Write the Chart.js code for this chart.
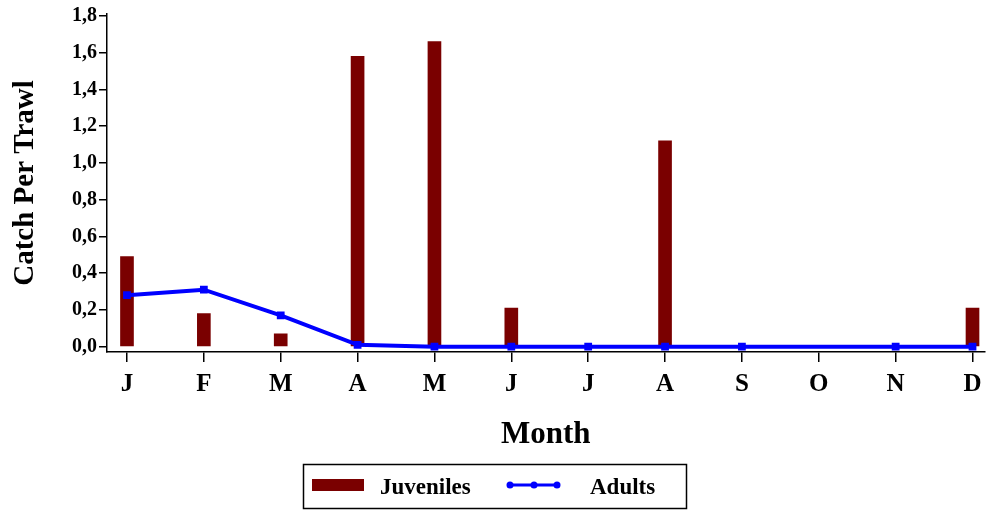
<!DOCTYPE html>
<html>
<head>
<meta charset="utf-8">
<script src="https://cdn.jsdelivr.net/npm/chart.js@4/dist/chart.umd.min.js"></script>
<style>
  html, body { margin: 0; padding: 0; background: #ffffff; }
  #wrap { width: 990px; height: 510px; position: relative; }
</style>
</head>
<body>
<div id="wrap"><canvas id="c" width="990" height="510"></canvas></div>
<script>
const months = ['J', 'F', 'M', 'A', 'M', 'J', 'J', 'A', 'S', 'O', 'N', 'D'];
const juveniles = [0.49, 0.18, 0.07, 1.58, 1.66, 0.21, 0, 1.12, 0, 0, 0, 0.21];
const adults = [0.28, 0.31, 0.17, 0.01, 0, 0, 0, 0, 0, null, 0, 0];
const yTicks = [0, 0.2, 0.4, 0.6, 0.8, 1.0, 1.2, 1.4, 1.6, 1.8];
const seriesNames = ['Juveniles', 'Adults'];

const FONT = '"Liberation Serif", "DejaVu Serif", serif';
const MAROON = '#7a0000';
const BLUE = '#0000ff';

const legendPlugin = {
  id: 'boxLegend',
  afterDraw(chart) {
    const ctx = chart.ctx;
    const ds = chart.data.datasets;
    ctx.save();
    ctx.strokeStyle = '#000';
    ctx.lineWidth = 1.5;
    ctx.strokeRect(303.5, 464.5, 383, 44);
    ctx.fillStyle = ds[0].backgroundColor;
    ctx.fillRect(312, 479, 52, 12);
    ctx.strokeStyle = ds[1].borderColor;
    ctx.lineWidth = 3;
    ctx.beginPath();
    ctx.moveTo(508, 485);
    ctx.lineTo(559, 485);
    ctx.stroke();
    ctx.fillStyle = ds[1].borderColor;
    [510, 534, 557].forEach(x => {
      ctx.beginPath();
      ctx.arc(x, 485, 3.5, 0, Math.PI * 2);
      ctx.fill();
    });
    ctx.fillStyle = '#000';
    ctx.font = 'bold 23px ' + FONT;
    ctx.textBaseline = 'middle';
    ctx.textAlign = 'left';
    ctx.fillText(ds[0].label, 380, 488);
    ctx.fillText(ds[1].label, 590, 488);
    ctx.restore();
  }
};

const barData = juveniles.map((v, i) => ({ x: i, y: v }));
const lineData = adults.map((v, i) => ({ x: i, y: v })).filter(p => p.y !== null);

new Chart(document.getElementById('c'), {
  type: 'bar',
  data: {
    datasets: [
      {
        type: 'bar',
        label: seriesNames[0],
        data: barData,
        backgroundColor: MAROON,
        borderWidth: 0,
        barThickness: 13,
        order: 1
      },
      {
        type: 'line',
        label: seriesNames[1],
        data: lineData,
        borderColor: BLUE,
        backgroundColor: BLUE,
        borderWidth: 4,
        pointStyle: 'rect',
        pointRadius: 5.5,
        pointBorderWidth: 0,
        tension: 0,
        spanGaps: true,
        order: 0
      }
    ]
  },
  options: {
    responsive: false,
    animation: false,
    devicePixelRatio: 1,
    layout: { padding: { top: 13, left: 0, right: 0, bottom: 0 } },
    plugins: {
      legend: { display: false },
      tooltip: { enabled: false }
    },
    scales: {
      x: {
        type: 'linear',
        offset: false,
        min: -0.26,
        max: 11.156,
        afterBuildTicks(scale) { scale.ticks = months.map((m, i) => ({ value: i })); },
        afterFit(scale) { scale.height = 158; },
        ticks: {
          color: '#000',
          font: { family: FONT, size: 25, weight: 'bold' },
          padding: 8,
          maxRotation: 0,
          autoSkip: false,
          callback: (v) => months[v] !== undefined ? months[v] : ''
        },
        grid: { offset: false, drawOnChartArea: false, drawTicks: true, tickLength: 10, color: '#000', lineWidth: 1.5 },
        border: { display: true, color: '#000', width: 1.5 },
        title: {
          display: true,
          text: 'Month',
          color: '#000',
          font: { family: FONT, size: 31, weight: 'bold', lineHeight: 1 },
          padding: { top: 0, bottom: 60 }
        }
      },
      y: {
        type: 'linear',
        min: -0.029,
        max: 1.81,
        afterBuildTicks(scale) { scale.ticks = yTicks.map(v => ({ value: v })); },
        afterFit(scale) { scale.width = 107; },
        ticks: {
          color: '#000',
          font: { family: FONT, size: 20, weight: 'bold' },
          padding: 2,
          callback: (v) => v.toFixed(1).replace('.', ',')
        },
        grid: { drawOnChartArea: false, drawTicks: true, tickLength: 8, color: '#000', lineWidth: 1.5 },
        border: { display: true, color: '#000', width: 1.5 },
        title: {
          display: true,
          text: 'Catch Per Trawl',
          color: '#000',
          font: { family: FONT, size: 29, weight: 'bold', lineHeight: 1 },
          padding: { top: 11, bottom: 0 }
        }
      }
    }
  },
  plugins: [legendPlugin]
});
</script>
</body>
</html>
